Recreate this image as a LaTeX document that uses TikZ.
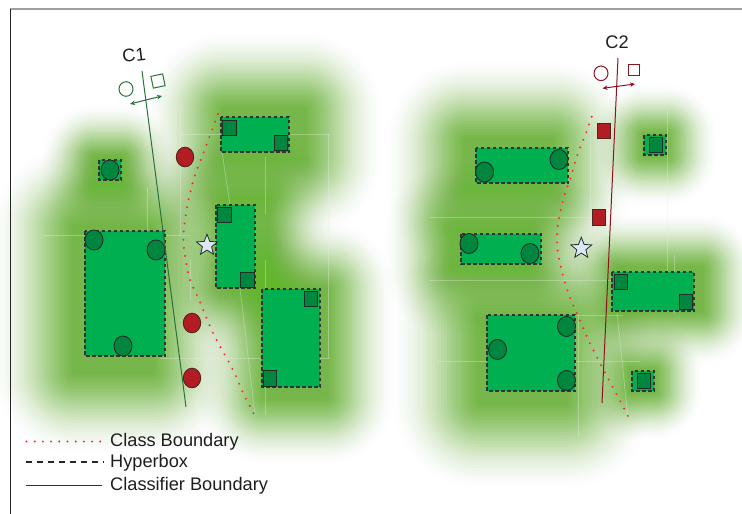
\documentclass[tikz,border=0pt]{standalone}
\usepackage{fontspec}
\setmainfont{Liberation Sans}
\usetikzlibrary{arrows.meta,shapes.geometric}

\definecolor{boxg}{RGB}{0,176,80}
\definecolor{dotg}{RGB}{0,134,62}
\definecolor{edgec}{RGB}{35,45,40}
\definecolor{redp}{RGB}{180,28,36}
\definecolor{glowc}{RGB}{100,182,45}
\definecolor{cbred}{RGB}{250,40,50}
\definecolor{cigreen}{RGB}{40,115,60}
\definecolor{cired}{RGB}{140,20,30}
\definecolor{starf}{RGB}{220,232,245}
\definecolor{faintl}{RGB}{232,238,232}
\definecolor{txtc}{RGB}{30,30,30}

% soft glow: evenly spaced layers whose opacity fades outward
\newcommand\glowrect[5]{%
  \foreach \k in {1,...,30}{%
    \pgfmathsetmacro\dd{#5*\k/30}%
    \pgfmathsetmacro\op{0.12*(1-(\k-1)/30)^1.3}%
    \fill[glowc, opacity=\op, rounded corners=\dd pt] (#1-\dd,#2-\dd) rectangle (#3+\dd,#4+\dd);
  }}

\tikzset{
  hbox/.style={fill=boxg, draw=black!80, line width=1.1pt, dash pattern=on 3.5pt off 2.5pt},
  gcirc/.style={fill=dotg, draw=edgec, line width=0.9pt},
  gsq/.style={fill=dotg, draw=edgec, line width=0.9pt},
  rmark/.style={fill=redp, draw=edgec!80!red, line width=0.9pt},
  cbline/.style={cbred, line width=2.2pt, line cap=round, dash pattern=on 0pt off 8.2pt},
  faint/.style={faintl, line width=0.8pt, opacity=0.35},
  starmark/.style={star, star points=5, star point ratio=2.3, minimum size=22pt, inner sep=0pt, fill=starf, draw=edgec, line width=0.8pt},
  lbl/.style={font=\fontsize{18.2}{20}\selectfont, text=txtc, inner sep=0pt}
}

\begin{document}
\begin{tikzpicture}[x=1pt,y=-1pt]
\useasboundingbox (0,0) rectangle (742,514);
\fill[white] (0,0) rectangle (742,514);

% ---------- glows ----------
% left panel
\glowrect{95}{158}{122}{185}{55}
\glowrect{224}{110}{304}{158}{80}
\glowrect{75}{228}{152}{372}{85}
\glowrect{224}{200}{268}{285}{65}
\glowrect{265}{289}{326}{397}{70}
% right panel
\glowrect{644}{135}{666}{155}{52}
\glowrect{466}{140}{552}{188}{82}
\glowrect{452}{232}{530}{268}{70}
\glowrect{618}{268}{702}{311}{55}
\glowrect{480}{320}{565}{402}{90}
\glowrect{632}{371}{654}{391}{50}

% ---------- faint construction lines ----------
\draw[faint] (180,104) -- (180,235);
\draw[faint] (180,134) -- (330,134);
\draw[faint] (265,157) -- (265,214);
\draw[faint] (147,187) -- (147,235);
\draw[faint] (43,235) -- (190,235);
\draw[faint] (222,152) -- (230,205);
\draw[faint] (190,260) -- (190,300);
\draw[faint] (240,288) -- (255,415);
\draw[faint] (265,260) -- (265,415);
\draw[faint] (328,134) -- (328,358);
\draw[faint] (160,358) -- (330,358);
\draw[faint] (430,217) -- (600,217);
\draw[faint] (590,110) -- (590,233);
\draw[faint] (596,140) -- (602,193);
\draw[faint] (430,280) -- (690,280);
\draw[faint] (577,315) -- (623,315);
\draw[faint] (437,361) -- (640,361);
\draw[faint] (578,315) -- (578,437);
\draw[faint] (667,110) -- (667,290);
\draw[faint] (674,255) -- (674,313);
\draw[faint] (617,313) -- (628,418);

% ---------- frame ----------
\draw[gray!75, line width=1.4pt] (10,9) -- (742,9);
\draw[black!85, line width=1pt] (10.5,9) -- (10.5,514);

% ---------- left panel hyperboxes ----------
\draw[hbox] (99,160) rectangle (121,180);
\draw[gcirc] (110,170) ellipse (9 and 10);

\draw[hbox] (221,117) rectangle (289,152);
\draw[gsq] (222,120) rectangle (236,135);
\draw[gsq] (274,135) rectangle (287,150);

\draw[hbox] (85,231) rectangle (165,356);
\draw[gcirc] (94,240) ellipse (9 and 10);
\draw[gcirc] (156,250) ellipse (9 and 10);
\draw[gcirc] (123,346) ellipse (9 and 10);

\draw[hbox] (216,205) rectangle (255,288);
\draw[gsq] (217.5,207.5) rectangle (231,222);
\draw[gsq] (240.5,272) rectangle (254,287);

\draw[hbox] (262,289) rectangle (320,387);
\draw[gsq] (304,291) rectangle (317.5,306);
\draw[gsq] (263.5,370.5) rectangle (276.5,386);

% red class points (left)
\draw[rmark] (185,157) ellipse (8.7 and 9.8);
\draw[rmark] (192,323) ellipse (8.7 and 9.8);
\draw[rmark] (192,378) ellipse (8.7 and 9.8);

% class boundary (left)
\draw[cbline] plot[smooth] coordinates {(218,114) (209,138) (200,162) (194,178) (188,202) (184,228) (183.5,244) (185.7,260) (190,280) (200,302) (213,333) (233,370) (243,392.7) (255,416)};

% classifier C1
\draw[cigreen, line width=1pt] (142,71) coordinate (c1top) -- (186,407) coordinate (c1bot);
\node[lbl, rotate=7] (c1lab) at (134,55) {C1};
\draw[cigreen, line width=1pt] (126,89) ellipse (7 and 7.3);
\draw[cigreen, line width=1pt, rotate around={12:(158,81)}] (152,75) rectangle (164,87);
\coordinate (c1a) at (130,104);
\coordinate (c1b) at (162,96);
\draw[cigreen, line width=1pt, {Stealth[length=5pt,width=4.5pt]}-{Stealth[length=5pt,width=4.5pt]}] (c1a) -- (c1b);

\node[starmark] (star1) at (207,245.3) {};

% ---------- right panel hyperboxes ----------
\draw[hbox] (644,135) rectangle (666,155);
\draw[gsq] (649,137) rectangle (662.5,152.5);

\draw[hbox] (476,148) rectangle (568,183);
\draw[gcirc] (484.5,172) ellipse (9 and 10);
\draw[gcirc] (559,159.5) ellipse (9 and 10);

\draw[hbox] (461,234) rectangle (541,264);
\draw[gcirc] (469,243.5) ellipse (9 and 10);
\draw[gcirc] (530,253.5) ellipse (9 and 10);

\draw[hbox] (612,272) rectangle (694,311);
\draw[gsq] (614.5,274) rectangle (627.5,289.5);
\draw[gsq] (679,294) rectangle (692,309);

\draw[hbox] (487,315) rectangle (575,391);
\draw[gcirc] (497.5,349.5) ellipse (9 and 10);
\draw[gcirc] (566.5,326.5) ellipse (9 and 10);
\draw[gcirc] (566.5,380.5) ellipse (9 and 10);

\draw[hbox] (632,371) rectangle (654,391);
\draw[gsq] (637,373.5) rectangle (650,388.5);

% red class points (right)
\draw[rmark] (597.5,123) rectangle (610.5,138);
\draw[rmark] (592,209.5) rectangle (605,225);

% class boundary (right)
\draw[cbline] plot[smooth] coordinates {(591.7,116.7) (586,133) (576.7,156.7) (570,180) (565,193) (560,213.3) (557.3,230) (557.3,246.7) (560,264) (566.7,288.3) (576,311.7) (590,343.3) (605.3,373.3) (617.3,395.7) (629.3,418.7)};

% classifier C2
\draw[cired, line width=1pt] (618,58) coordinate (c2top) -- (602,403) coordinate (c2bot);
\node[lbl] (c2lab) at (617,42) {C2};
\draw[cired, line width=1pt] (601,73.3) ellipse (7 and 7.3);
\draw[cired, line width=1pt] (628,64.5) rectangle (639,75.5);
\coordinate (c2a) at (602.5,88.3);
\coordinate (c2b) at (635,84);
\draw[cired, line width=1pt, {Stealth[length=5pt,width=4.5pt]}-{Stealth[length=5pt,width=4.5pt]}] (c2a) -- (c2b);

\node[starmark] (star2) at (581.3,248.3) {};

% ---------- legend ----------
\coordinate (l1a) at (26.5,441.5); \coordinate (l1b) at (104,441.5);
\coordinate (l2a) at (26,462); \coordinate (l2b) at (104,462);
\coordinate (l3a) at (26,485); \coordinate (l3b) at (102,485);
\draw[cbline] (l1a) -- (l1b);
\draw[black!85, line width=1.3pt, dash pattern=on 6pt off 5pt] (l2a) -- (l2b);
\draw[black!80, line width=0.9pt] (l3a) -- (l3b);
\node[lbl, anchor=base west] (leg1) at (110,446.5) {Class Boundary};
\node[lbl, anchor=base west] (leg2) at (110,467.5) {Hyperbox};
\node[lbl, anchor=base west] (leg3) at (110,490) {Classifier Boundary};
\end{tikzpicture}
\end{document}
